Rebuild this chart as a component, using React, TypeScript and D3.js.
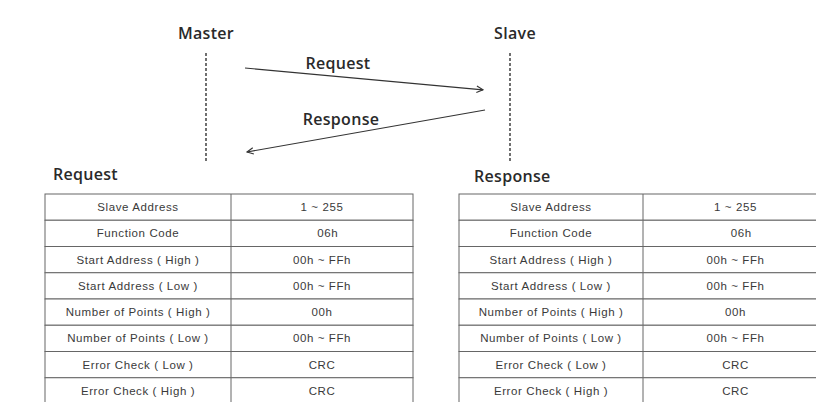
import * as d3 from 'd3';

const W = 816;
const H = 402;

// table contents (same layout for request and response frames)
const fieldNames = [
  'Slave Address',
  'Function Code',
  'Start Address ( High )',
  'Start Address ( Low )',
  'Number of Points ( High )',
  'Number of Points ( Low )',
  'Error Check ( Low )',
  'Error Check ( High )',
];
const requestValues = ['1 ~ 255', '\u00a0\u00a0\u00a006h', '00h ~ FFh', '00h ~ FFh', '00h', '00h ~ FFh', 'CRC', 'CRC'];
const responseValues = ['1 ~ 255', '\u00a0\u00a0\u00a006h', '00h ~ FFh', '00h ~ FFh', '00h', '00h ~ FFh', 'CRC', 'CRC'];

const actors = ['Master', 'Slave'];
const messages = [
  { label: 'Request', from: 'Master', to: 'Slave' },
  { label: 'Response', from: 'Slave', to: 'Master' },
];

const headingFont = "'Open Sans', 'Noto Sans', sans-serif";
const tableFont = "'Liberation Sans', Arial, sans-serif";

function FrameTable({
  title,
  values,
  x0,
  x1,
  x2,
  titleX,
  titleY,
}: {
  title: string;
  values: string[];
  x0: number;
  x1: number;
  x2: number;
  titleX: number;
  titleY: number;
}) {
  const y = d3.scaleBand<string>().domain(fieldNames).range([194, 404]);
  const bw = y.bandwidth();
  return (
    <g>
      <text
        x={titleX}
        y={titleY}
        fontFamily={headingFont}
        fontSize={16}
        fontWeight={600}
        letterSpacing={0.3}
        fill="#2a2a2a"
      >
        {title}
      </text>
      {fieldNames.map((f, i) => (
        <g key={f}>
          <rect
            x={x0}
            y={y(f)!}
            width={x2 - x0}
            height={bw}
            fill="#fff"
            stroke="#666"
            strokeWidth={1}
          />
          <line x1={x1} x2={x1} y1={y(f)!} y2={y(f)! + bw} stroke="#666" />
          <text
            x={(x0 + x1) / 2}
            y={y(f)! + bw / 2}
            textAnchor="middle"
            dominantBaseline="central"
            fontFamily={tableFont}
            fontSize={11.5}
            letterSpacing={0.6}
            fill="#3a3a3a"
          >
            {f}
          </text>
          <text
            x={(x1 + x2) / 2}
            y={y(f)! + bw / 2}
            textAnchor="middle"
            dominantBaseline="central"
            fontFamily={tableFont}
            fontSize={11.5}
            letterSpacing={0.6}
            fill="#3a3a3a"
            style={{ whiteSpace: 'pre' }}
          >
            {values[i]}
          </text>
        </g>
      ))}
    </g>
  );
}

export default function App() {
  // horizontal position of each lifeline
  const xActor = d3.scalePoint<string>().domain(actors).range([206, 510]);
  // vertical time axis for the message arrows
  const t = d3.scaleLinear().domain([0, 1]).range([68, 152]);

  const msgTimes = [
    [0, 0.26],
    [0.5, 1],
  ];
  // gap between lifeline and arrow ends [start, end]
  const msgGaps = [
    [39, 27],
    [25, 41],
  ];

  return (
    <svg
      width={W}
      height={H}
      style={{ position: 'absolute', left: 0, top: 0, background: '#fff' }}
    >
      <defs>
        <marker
          id="head"
          viewBox="0 0 10 10"
          refX={9}
          refY={5}
          markerWidth={8}
          markerHeight={8}
          markerUnits="userSpaceOnUse"
          orient="auto"
        >
          <path d="M1,1 L9,5 L1,9" fill="none" stroke="#333" strokeWidth={1.4} />
        </marker>
      </defs>

      {actors.map((a) => (
        <g key={a}>
          <text
            x={xActor(a)! + (a === 'Slave' ? 5 : 0)}
            y={39}
            textAnchor="middle"
            fontFamily={headingFont}
            fontSize={16}
            fontWeight={600}
            letterSpacing={0.3}
            fill="#2a2a2a"
          >
            {a}
          </text>
          <line
            x1={xActor(a)}
            x2={xActor(a)}
            y1={53}
            y2={162}
            stroke="#111"
            strokeWidth={1.2}
            strokeDasharray="3,2"
          />
        </g>
      ))}

      {messages.map((m, i) => {
        const dir = xActor(m.to)! > xActor(m.from)! ? 1 : -1;
        const xs = xActor(m.from)! + dir * msgGaps[i][0];
        const xe = xActor(m.to)! - dir * msgGaps[i][1];
        const ys = t(msgTimes[i][0]);
        const ye = t(msgTimes[i][1]);
        return (
          <g key={m.label}>
            <line
              x1={xs}
              y1={ys}
              x2={xe}
              y2={ye}
              stroke="#333"
              strokeWidth={1.2}
              markerEnd="url(#head)"
            />
            <text
              x={i === 0 ? 338 : 341}
              y={i === 0 ? 69 : 125}
              textAnchor="middle"
              fontFamily={headingFont}
              fontSize={16}
              fontWeight={600}
              letterSpacing={0.3}
              fill="#2a2a2a"
            >
              {m.label}
            </text>
          </g>
        );
      })}

      <FrameTable title="Request" values={requestValues} x0={45} x1={231} x2={413} titleX={53} titleY={180} />
      <FrameTable title="Response" values={responseValues} x0={459} x1={643} x2={828} titleX={474} titleY={182} />
    </svg>
  );
}
